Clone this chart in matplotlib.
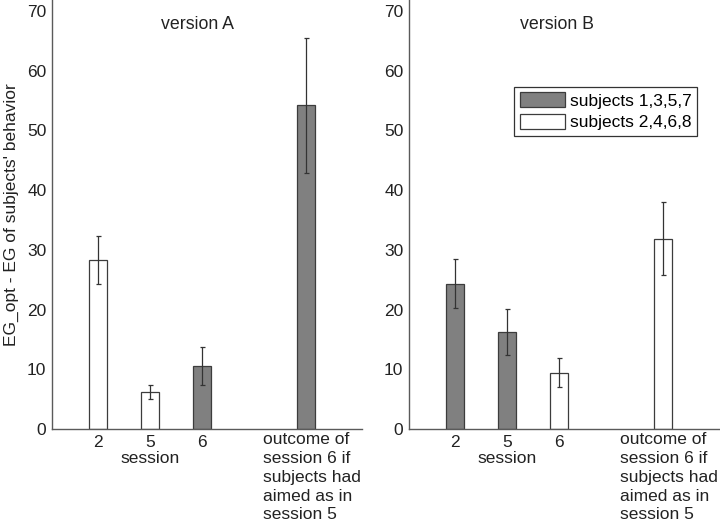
import matplotlib
matplotlib.use("Agg")
import matplotlib.pyplot as plt
from matplotlib.patches import Patch

plt.rcParams['font.family'] = ['Liberation Sans', 'DejaVu Sans']
plt.rcParams['font.size'] = 12.5

positions = [1, 2, 3, 5]
tick_labels = ["2", "5\nsession", "6", "outcome of\nsession 6 if\nsubjects had\naimed as in\nsession 5"]

values_A = [28.3, 6.2, 10.5, 54.2]
errors_A = [4.05, 1.23, 3.2, 11.3]
dark_A = [False, False, True, True]

values_B = [24.35, 16.3, 9.45, 31.9]
errors_B = [4.05, 3.85, 2.45, 6.1]
dark_B = [True, True, False, False]

titles = ["version A", "version B"]
legend_labels = ["subjects 1,3,5,7", "subjects 2,4,6,8"]

DARK = "#808080"
EDGE = "#3c3c3c"
SPINE = "#5a5a5a"
TXT = "#222222"

fig = plt.figure(figsize=(7.2, 5.24), dpi=100)
axA = fig.add_axes([52/720, 95/524, 310/720, 429/524])
axB = fig.add_axes([409/720, 95/524, 311/720, 429/524])

for ax, vals, errs, dark, title, xmax, tx in [
        (axA, values_A, errors_A, dark_A, titles[0], 6.08, 0.47),
        (axB, values_B, errors_B, dark_B, titles[1], 6.1, 0.476)]:
    colors = [DARK if d else "white" for d in dark]
    ax.bar(positions, vals, width=0.35, color=colors, edgecolor=EDGE, linewidth=0.9, zorder=2)
    ax.errorbar(positions, vals, yerr=errs, fmt='none', ecolor="#333333",
                elinewidth=0.9, capsize=1.8, capthick=0.9, zorder=3)
    ax.set_xlim(0.12, xmax)
    ax.set_ylim(0, 71.84)
    ax.set_yticks([0, 10, 20, 30, 40, 50, 60, 70])
    ax.set_xticks(positions[:-1])
    ax.set_xticklabels(tick_labels[:-1], linespacing=1.13)
    # long category label, left-aligned block under its bar
    ax.annotate(tick_labels[-1], xy=(positions[-1] + 0.115, 0),
                xycoords=('data', 'axes fraction'), xytext=(0, -2.5),
                textcoords='offset points', ha='center', va='top',
                multialignment='left', linespacing=1.31, fontsize=12.5,
                color=TXT, annotation_clip=False)
    ax.tick_params(axis='both', length=0, labelsize=12.5, colors=TXT)
    ax.tick_params(axis='y', pad=4)
    ax.tick_params(axis='x', pad=4)
    for s in ['top', 'right']:
        ax.spines[s].set_visible(False)
    for s in ['left', 'bottom']:
        ax.spines[s].set_color(SPINE)
        ax.spines[s].set_linewidth(1.0)
    ax.text(tx, 67.7, title, transform=ax.get_yaxis_transform(),
            ha='center', va='center', fontsize=12.8, color=TXT)

axA.set_ylabel("EG_opt - EG of subjects' behavior", fontsize=12.5, color=TXT, labelpad=6)

handles = [Patch(facecolor=DARK, edgecolor=EDGE, linewidth=0.9),
           Patch(facecolor="white", edgecolor=EDGE, linewidth=0.9)]
leg = fig.legend(handles, legend_labels, loc='upper right',
                 bbox_to_anchor=(697/720, 1 - 87/524), fancybox=False,
                 edgecolor="#333333", framealpha=1, fontsize=12.5,
                 handlelength=2.6, handleheight=0.95, handletextpad=0.3,
                 borderpad=0.3, labelspacing=0.3, borderaxespad=0)
leg.get_frame().set_linewidth(0.9)

fig.savefig("out.png", dpi=100)
